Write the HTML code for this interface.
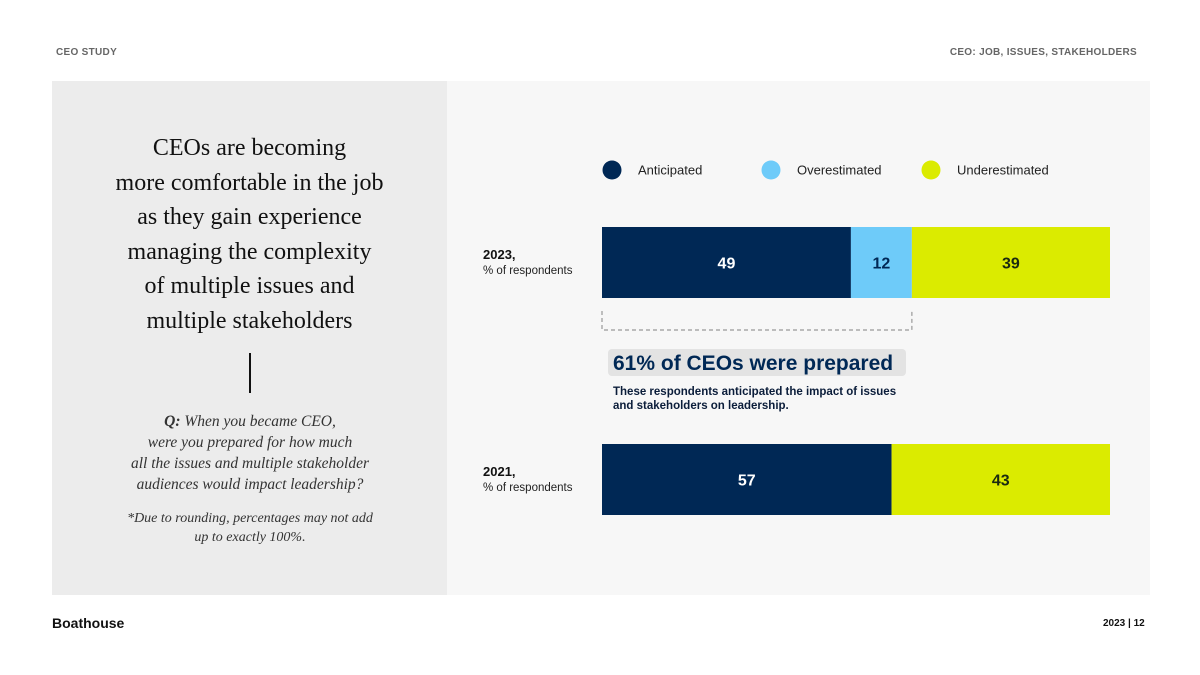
<!DOCTYPE html>
<html><head><meta charset="utf-8"><style>
body{margin:0;width:1200px;height:675px;background:#fff;position:relative;overflow:hidden;font-family:"Liberation Sans",sans-serif}
.abs{position:absolute}
.hdr{font-size:10px;font-weight:bold;color:#666;letter-spacing:0.3px;top:47px}
.serif{font-family:"Liberation Serif",serif;color:#111;text-align:center}
</style></head><body>
<div class="abs hdr" style="left:56px">CEO STUDY</div>
<div class="abs hdr" style="right:63px">CEO: JOB, ISSUES, STAKEHOLDERS</div>
<div class="abs" style="left:52px;top:81px;width:395px;height:514px;background:#ececec"></div>
<div class="abs" style="left:447px;top:81px;width:703px;height:514px;background:#f7f7f7"></div>
<div class="abs serif" style="left:102px;top:131px;width:295px;font-size:24px;line-height:34.5px">CEOs are becoming<br>more comfortable in the job<br>as they gain experience<br>managing the complexity<br>of multiple issues and<br>multiple stakeholders</div>
<div class="abs" style="left:249px;top:353px;width:2px;height:40px;background:#111"></div>
<div class="abs serif" style="left:110px;top:411px;width:280px;font-size:15.5px;line-height:21px;font-style:italic;color:#333"><b>Q:</b> When you became CEO,<br>were you prepared for how much<br>all the issues and multiple stakeholder<br>audiences would impact leadership?</div>
<div class="abs serif" style="left:110px;top:509px;width:280px;font-size:14px;line-height:19px;font-style:italic;color:#333">*Due to rounding, percentages may not add<br>up to exactly 100%.</div>
<div class="abs" style="left:52px;top:615px;font-size:14px;font-weight:bold;color:#111">Boathouse</div>
<div class="abs" style="left:1103px;top:618px;font-size:10px;font-weight:bold;color:#111">2023 | 12</div>
<svg class="abs" style="left:0;top:0" width="1200" height="675" id="chart"></svg>
<script>
const categories=["2023,","2021,"];
const anticipated=[49,57];
const overestimated=[12,0];
const underestimated=[39,43];
const seriesNames=["Anticipated","Overestimated","Underestimated"];
const colors=["#002855","#6ecbf9","#dbeb00"];
const textColors=["#fff","#002855","#1a2a10"];
const svg=document.getElementById('chart');
const NS="http://www.w3.org/2000/svg";
const x0=602,x1=1110;
const xs=v=>x0+(x1-x0)*v/100;
const rowY=[227,444],barH=71;
function mk(t,a){const e=document.createElementNS(NS,t);for(const k in a)e.setAttribute(k,a[k]);svg.appendChild(e);return e;}
// legend
const legX=[612,771,931];
seriesNames.forEach((n,i)=>{
 const c=mk('circle',{cx:legX[i],cy:170,r:9.5,fill:colors[i]});
 
 
 const t=mk('text',{x:legX[i]+26,y:174.5,'font-size':13,fill:'#222','font-family':'Liberation Sans'});
 t.textContent=n;
 
 
});
const series=[anticipated,overestimated,underestimated];
categories.forEach((cat,r)=>{
 const y=rowY[r];
 const l1=mk('text',{x:483,y:y+32,'font-size':13,'font-weight':'bold',fill:'#111','font-family':'Liberation Sans'});
 l1.textContent=cat;
 
 
 const l2=mk('text',{x:483,y:y+47,'font-size':11.5,fill:'#222','font-family':'Liberation Sans'});
 l2.textContent='% of respondents';
 
 
 let acc=0;
 series.forEach((s,i)=>{
  const v=s[r]; if(!v)return;
  const rc=mk('rect',{x:xs(acc),y:y,width:xs(acc+v)-xs(acc),height:barH,fill:colors[i]});
  
  
  const t=mk('text',{x:(xs(acc)+xs(acc+v))/2,y:y+barH/2+6,'font-size':16,'font-weight':'bold',fill:textColors[i],'text-anchor':'middle','font-family':'Liberation Sans'});
  t.textContent=v;
  
  
  acc+=v;
 });
});
const br=mk('path',{d:`M${xs(0)} 311 V330 H${xs(anticipated[0]+overestimated[0])} V311`,fill:'none',stroke:'#999','stroke-dasharray':'4 3','stroke-width':1.2});


const hb=mk('rect',{x:608,y:349,width:298,height:27,rx:4,fill:'#e3e3e3'});


const ht=mk('text',{x:613,y:370,'font-size':21,'font-weight':'bold',fill:'#002855','font-family':'Liberation Sans'});
ht.textContent=(anticipated[0]+overestimated[0])+'% of CEOs were prepared';


['These respondents anticipated the impact of issues','and stakeholders on leadership.'].forEach((s,i)=>{
 const t=mk('text',{x:613,y:395+i*14,'font-size':11.5,'font-weight':'bold',fill:'#0b1d3a','font-family':'Liberation Sans'});
 t.textContent=s;
 
 
});
</script>
</body></html>
